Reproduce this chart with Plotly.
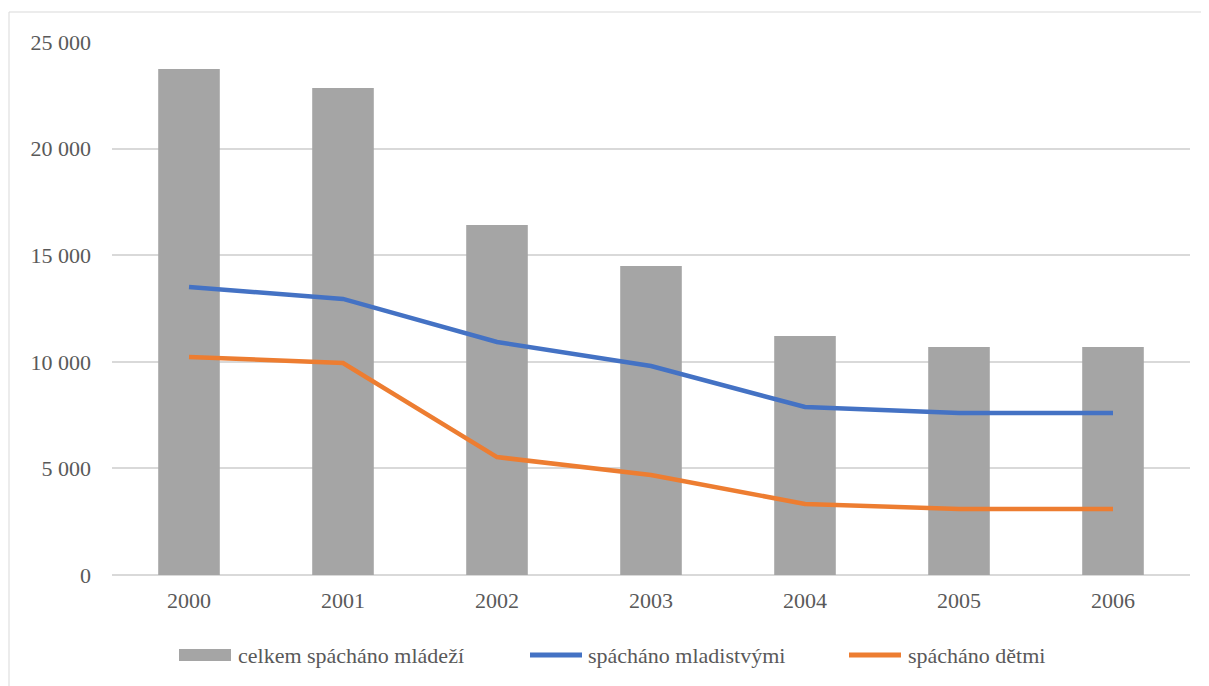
import plotly.graph_objects as go

years = ["2000", "2001", "2002", "2003", "2004", "2005", "2006"]
celkem = [23730, 22840, 16420, 14490, 11210, 10700, 10700]
mladistvi = [13510, 12950, 10930, 9800, 7880, 7600, 7600]
deti = [10230, 9940, 5530, 4690, 3330, 3100, 3100]

names = ["celkem spácháno mládeží", "spácháno mladistvými", "spácháno dětmi"]
colors = ["#A5A5A5", "#4472C4", "#ED7D31"]

font_family = "'Times New Roman', 'Liberation Serif', Tinos, 'DejaVu Serif', serif"
text_color = "#595959"
fs = 22

# page-pixel -> paper coordinates (plot area spans page x 112..1190, y 42..575)
def px(x):
    return (x - 112) / 1078.0

def py(y):
    return (575 - y) / 533.0

fig = go.Figure()
fig.add_trace(go.Bar(x=years, y=celkem, name=names[0], showlegend=False,
                     marker=dict(color=colors[0], line=dict(width=0))))
fig.add_trace(go.Scatter(x=years, y=mladistvi, name=names[1], mode="lines", showlegend=False,
                         line=dict(color=colors[1], width=4.5)))
fig.add_trace(go.Scatter(x=years, y=deti, name=names[2], mode="lines", showlegend=False,
                         line=dict(color=colors[2], width=4.5)))

shapes = [dict(type="rect", xref="paper", yref="paper",
               x0=px(9), x1=px(1208), y0=py(700), y1=py(12),
               line=dict(color="#D9D9D9", width=1), fillcolor="rgba(0,0,0,0)", layer="below")]

# custom legend
legend_y = 655
shapes.append(dict(type="rect", xref="paper", yref="paper",
                   x0=px(179), x1=px(231), y0=py(661), y1=py(649),
                   line=dict(width=0), fillcolor=colors[0]))
for (x0, x1), c in zip([(530, 582), (849, 901)], colors[1:]):
    shapes.append(dict(type="line", xref="paper", yref="paper",
                       x0=px(x0), x1=px(x1), y0=py(legend_y), y1=py(legend_y),
                       line=dict(color=c, width=5)))

annotations = []
for tx, name in zip([236, 586, 906], names):
    annotations.append(dict(xref="paper", yref="paper", x=px(tx), y=py(legend_y),
                            xanchor="left", yanchor="middle", text=name, showarrow=False,
                            font=dict(family=font_family, size=fs, color=text_color)))

fig.update_layout(
    width=1201, height=678,
    margin=dict(l=104, r=19, t=34, b=111),
    paper_bgcolor="white", plot_bgcolor="white",
    font=dict(family=font_family, size=fs, color=text_color),
    separators=", ",
    bargap=0.6,
    showlegend=False,
    xaxis=dict(type="category", showgrid=False, showline=False, ticks="",
               ticklabelstandoff=10, tickfont=dict(family=font_family, size=fs, color=text_color)),
    yaxis=dict(range=[0, 25000], dtick=5000, tickformat=",d", showgrid=True,
               gridcolor="#D9D9D9", gridwidth=1.5, zeroline=True, zerolinecolor="#D9D9D9",
               zerolinewidth=1.5, showline=False, ticks="", ticklabelstandoff=20,
               tickfont=dict(family=font_family, size=fs, color=text_color)),
    shapes=shapes,
    annotations=annotations,
)

fig.write_html("out.html")
